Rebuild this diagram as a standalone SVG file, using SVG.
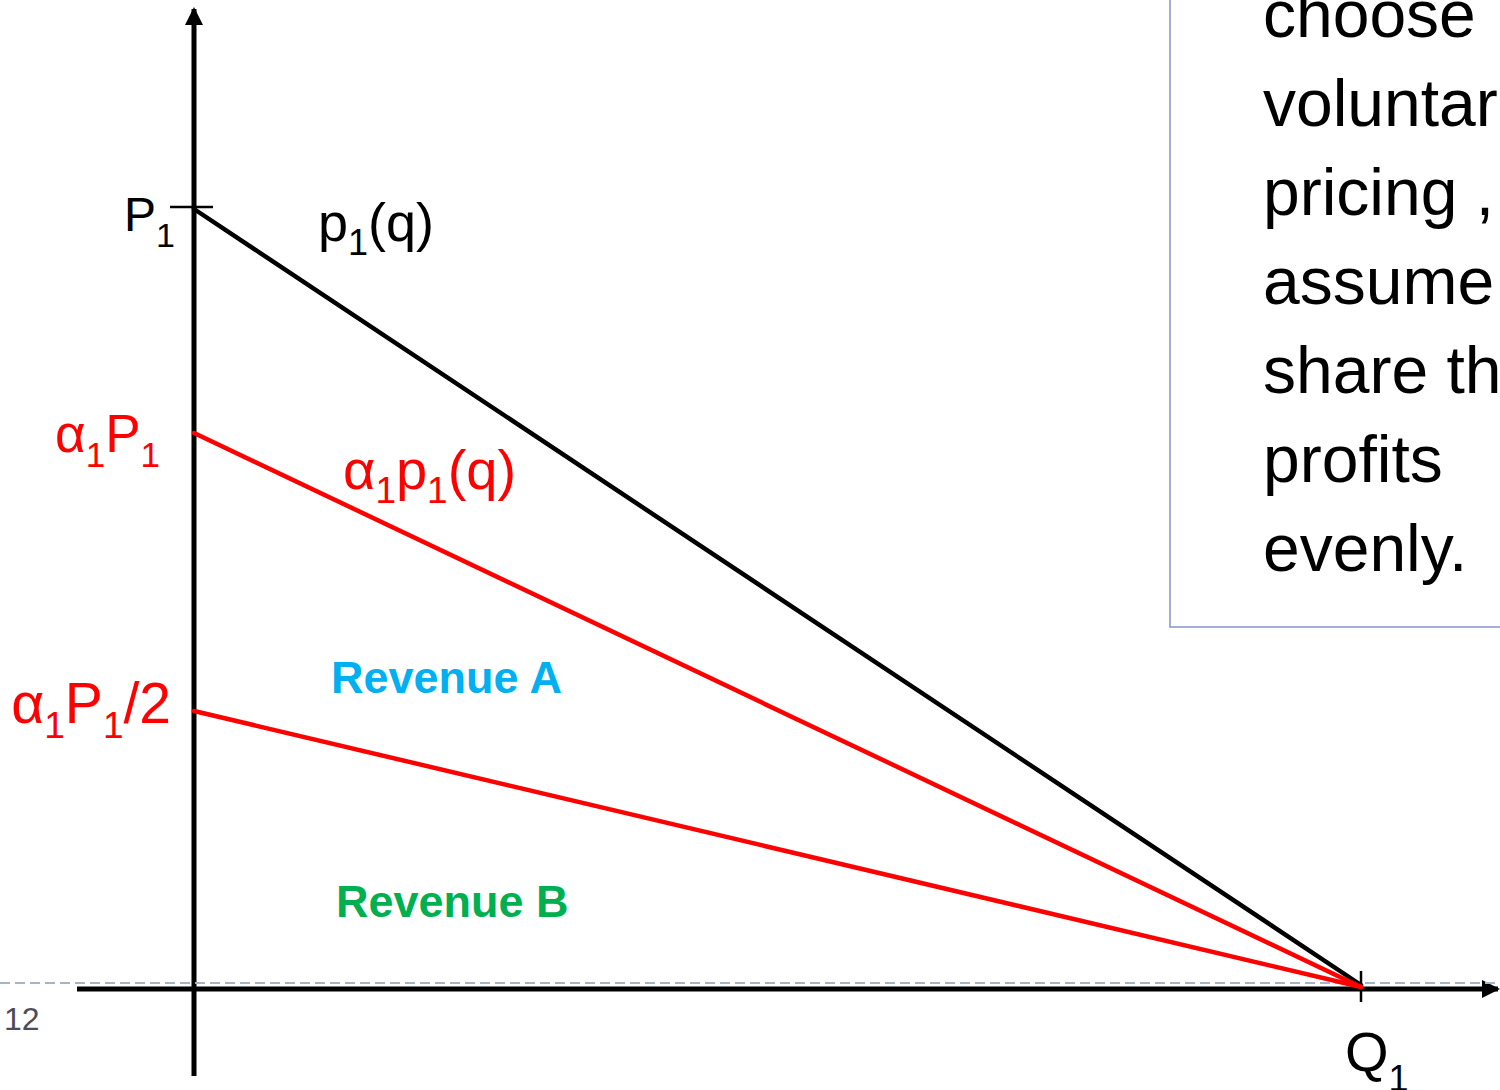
<svg xmlns="http://www.w3.org/2000/svg" width="1500" height="1090" viewBox="0 0 1500 1090">
  <style>
    text { font-family: "Liberation Sans", Arial, sans-serif; }
    .blk { fill: #000000; }
    .red { fill: #FF0000; }
    .axis { stroke: #000000; stroke-width: 5; fill: none; }
    .tick { stroke: #000000; stroke-width: 2.5; }
    .curve { stroke-width: 4.5; fill: none; stroke-linecap: round; }
    .box { fill: none; stroke: #8496c4; stroke-width: 1.5; }
    .boxtext { font-size: 66px; fill: #000000; }
    .rev { font-size: 45px; font-weight: bold; }
  </style>
  <defs>
    <marker id="arrow" markerUnits="userSpaceOnUse" markerWidth="18" markerHeight="18" refX="16" refY="9" orient="auto">
      <path d="M0,0 L18,9 L0,18 z" fill="#000000"/>
    </marker>
  </defs>

  <rect width="1500" height="1090" fill="#ffffff"/>

  <!-- text box at right -->
  <g id="note-box">
    <rect class="box" x="1170" y="-10" width="345" height="637"/>
    <text class="boxtext" x="1263" y="37">choose</text>
    <text class="boxtext" x="1263" y="126">voluntar</text>
    <text class="boxtext" x="1263" y="215">pricing ,</text>
    <text class="boxtext" x="1263" y="304">assume</text>
    <text class="boxtext" x="1263" y="393">share th</text>
    <text class="boxtext" x="1263" y="482">profits</text>
    <text class="boxtext" x="1263" y="571">evenly.</text>
  </g>

  <!-- axes -->
  <g id="axes">
    <line class="axis" x1="194" y1="1076" x2="194" y2="9" marker-end="url(#arrow)"/>
    <line class="axis" x1="77" y1="989" x2="1498" y2="989" marker-end="url(#arrow)"/>
    <line class="tick" x1="170" y1="207" x2="213" y2="207"/>
    <line class="tick" x1="1361" y1="971" x2="1361" y2="1002"/>
  </g>

  <line id="slide-guide" x1="0" y1="983" x2="1500" y2="983" stroke="#a5b5c9" stroke-width="2" stroke-dasharray="10 5"/>

  <!-- plotted lines -->
  <g id="connectors">
    <line class="curve" stroke="#000000" x1="194" y1="209" x2="1361" y2="985"/>
    <line class="curve" stroke="#FF0000" x1="194" y1="433" x2="1361" y2="987"/>
    <line class="curve" stroke="#FF0000" x1="194" y1="711" x2="1361" y2="987"/>
  </g>

  <!-- labels -->
  <g id="label-P1">
    <text class="blk" x="124" y="231" font-size="48">P<tspan font-size="34" dy="16">1</tspan></text>
  </g>
  <g id="label-p1q">
    <text class="blk" x="318" y="241" font-size="54">p<tspan font-size="36" dy="14">1</tspan><tspan dy="-14">(q)</tspan></text>
  </g>
  <g id="label-a1P1">
    <text class="red" x="160" y="452" font-size="53" text-anchor="end">α<tspan font-size="35" dy="15">1</tspan><tspan dy="-15">P</tspan><tspan font-size="35" dy="15">1</tspan></text>
  </g>
  <g id="label-a1p1q">
    <text class="red" x="343" y="489" font-size="56">α<tspan font-size="37" dy="14">1</tspan><tspan dy="-14">p</tspan><tspan font-size="37" dy="14">1</tspan><tspan dy="-14">(q)</tspan></text>
  </g>
  <g id="label-a1P1-half">
    <text class="red" x="171" y="723" font-size="57" text-anchor="end">α<tspan font-size="37" dy="15">1</tspan><tspan dy="-15">P</tspan><tspan font-size="37" dy="15">1</tspan><tspan dy="-15">/2</tspan></text>
  </g>
  <g id="label-revenue-a">
    <text class="rev" x="331" y="693" fill="#00B0F0">Revenue A</text>
  </g>
  <g id="label-revenue-b">
    <text class="rev" x="336" y="917" fill="#00B050">Revenue B</text>
  </g>
  <g id="label-Q1">
    <text class="blk" x="1345" y="1071" font-size="56">Q<tspan font-size="36" dy="20">1</tspan></text>
  </g>
  <g id="slide-number">
    <text x="4" y="1030" font-size="32" fill="#4d4d57">12</text>
  </g>
</svg>
